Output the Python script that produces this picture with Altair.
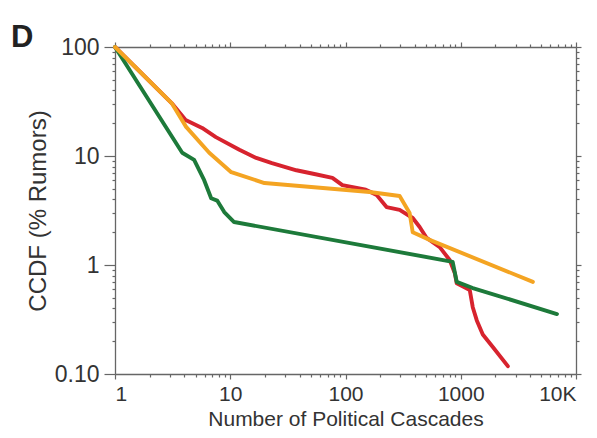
import altair as alt
import pandas as pd

# ---- data (log-log CCDF) ----
red_x = [1, 3.1, 4.1, 5.7, 7.5, 12, 16.8, 23, 37.5, 55, 77, 94, 150, 186, 227, 295, 383, 440, 506, 657, 802, 887, 923, 1197, 1271, 1378, 1553, 1897, 2563]
red_y = [100, 30.6, 21.4, 18.1, 14.9, 11.4, 9.6, 8.6, 7.4, 6.8, 6.3, 5.4, 4.9, 4.4, 3.4, 3.2, 2.7, 2.23, 1.77, 1.46, 1.11, 0.845, 0.68, 0.59, 0.41, 0.31, 0.23, 0.177, 0.118]

orange_x = [1, 3.1, 4.14, 6.57, 10.2, 19.8, 162, 295, 360, 383, 537, 4227]
orange_y = [100, 30.6, 18.5, 10.7, 7.1, 5.65, 4.68, 4.3, 3.0, 2.0, 1.7, 0.70]

green_x = [1, 3.83, 4.86, 5.94, 6.83, 7.7, 8.87, 10.8, 851, 923, 1271, 6839]
green_y = [100, 10.7, 9.2, 6.0, 4.1, 3.9, 3.06, 2.48, 1.07, 0.70, 0.615, 0.355]

series_names = ["red", "green", "orange"]
series_colors = ["#d7232e", "#1d7a3a", "#f4a422"]

x_major = [1, 10, 100, 1000, 10000]
y_major = [0.1, 1, 10, 100]
x_minor = [m * 10 ** k for k in range(4) for m in range(2, 10)]
y_minor = [round(m * 10 ** k, 3) for k in range(-1, 2) for m in range(2, 10)]

rows = []
for name, xs, ys in [("red", red_x, red_y), ("green", green_x, green_y), ("orange", orange_x, orange_y)]:
    for i, (xv, yv) in enumerate(zip(xs, ys)):
        rows.append({"series": name, "x": xv, "y": yv, "idx": i})
df = pd.DataFrame(rows)

FONT = "Liberation Sans"
TXT = "#333333"
AX = "#666666"

x_major_test = "indexof([1,10,100,1000,10000], datum.value) < 0"
y_major_test = "indexof([0.1,1,10,100], datum.value) < 0"

xscale = alt.Scale(type="log", domain=[1, 10000], nice=False)
yscale = alt.Scale(type="log", domain=[0.1, 100], nice=False)

color = alt.Color("series:N", scale=alt.Scale(domain=series_names, range=series_colors), legend=None)

base = alt.Chart(df)

lines = base.mark_line(strokeWidth=3.9, strokeJoin="round", strokeCap="round").encode(
    x=alt.X("x:Q", scale=xscale, axis=alt.Axis(
        orient="bottom", values=x_major + x_minor, title="Number of Political Cascades",
        labelExpr="datum.value == 10000 ? '10K' : (indexof([1,10,100,1000], datum.value) >= 0 ? datum.value + '' : '')",
        labelOverlap=False, labelFont=FONT, labelFontSize=21, labelColor=TXT, labelPadding=4,
        titleFont=FONT, titleFontSize=21, titleFontWeight="normal", titleColor=TXT, titlePadding=4,
        grid=False, domainColor=AX, domainWidth=1.3, tickColor=AX, tickWidth=1.2,
        tickSize={"condition": {"test": x_major_test, "value": 3}, "value": 5},
    )),
    y=alt.Y("y:Q", scale=yscale, axis=alt.Axis(
        orient="left", values=y_major + y_minor, title="CCDF (% Rumors)",
        labelExpr="datum.value == 0.1 ? '0.10' : (indexof([1,10,100], datum.value) >= 0 ? datum.value + '' : '')",
        labelOverlap=False, labelFont=FONT, labelFontSize=23, labelColor=TXT, labelPadding=5,
        titleFont=FONT, titleFontSize=24, titleFontWeight="normal", titleColor=TXT, titlePadding=4,
        grid=False, domainColor=AX, domainWidth=1.3, tickColor=AX, tickWidth=1.2,
        tickSize={"condition": {"test": y_major_test, "value": 3}, "value": 11},
    )),
    color=color,
    order=alt.Order("idx:Q"),
    detail="series:N",
)

frame = base.mark_line(opacity=0).encode(
    x=alt.X("x:Q", scale=xscale, axis=alt.Axis(
        orient="top", values=x_major + x_minor, labels=False, title=None, grid=False,
        domainColor=AX, domainWidth=1.3, tickColor=AX, tickWidth=1.2,
        tickSize={"condition": {"test": x_major_test, "value": 3}, "value": 5},
    )),
    y=alt.Y("y:Q", scale=yscale, axis=alt.Axis(
        orient="right", values=y_major + y_minor, labels=False, title=None, grid=False,
        domainColor=AX, domainWidth=1.3, tickColor=AX, tickWidth=1.2,
        tickSize={"condition": {"test": y_major_test, "value": 3}, "value": 5},
    )),
    detail="series:N",
)

chart = alt.layer(frame, lines).resolve_axis(x="independent", y="independent").properties(
    width=461,
    height=327,
    autosize=alt.AutoSizeParams(type="none"),
    padding={"left": 107, "top": 39, "right": 13, "bottom": 56},
    title=alt.TitleParams("D", anchor="start", frame="group", font=FONT, fontSize=31,
                          fontWeight="bold", color="#222222", dx=-104, dy=22, offset=4),
).configure_view(stroke=None)

chart.save("out.html", embed_options={"renderer": "svg", "actions": False})
